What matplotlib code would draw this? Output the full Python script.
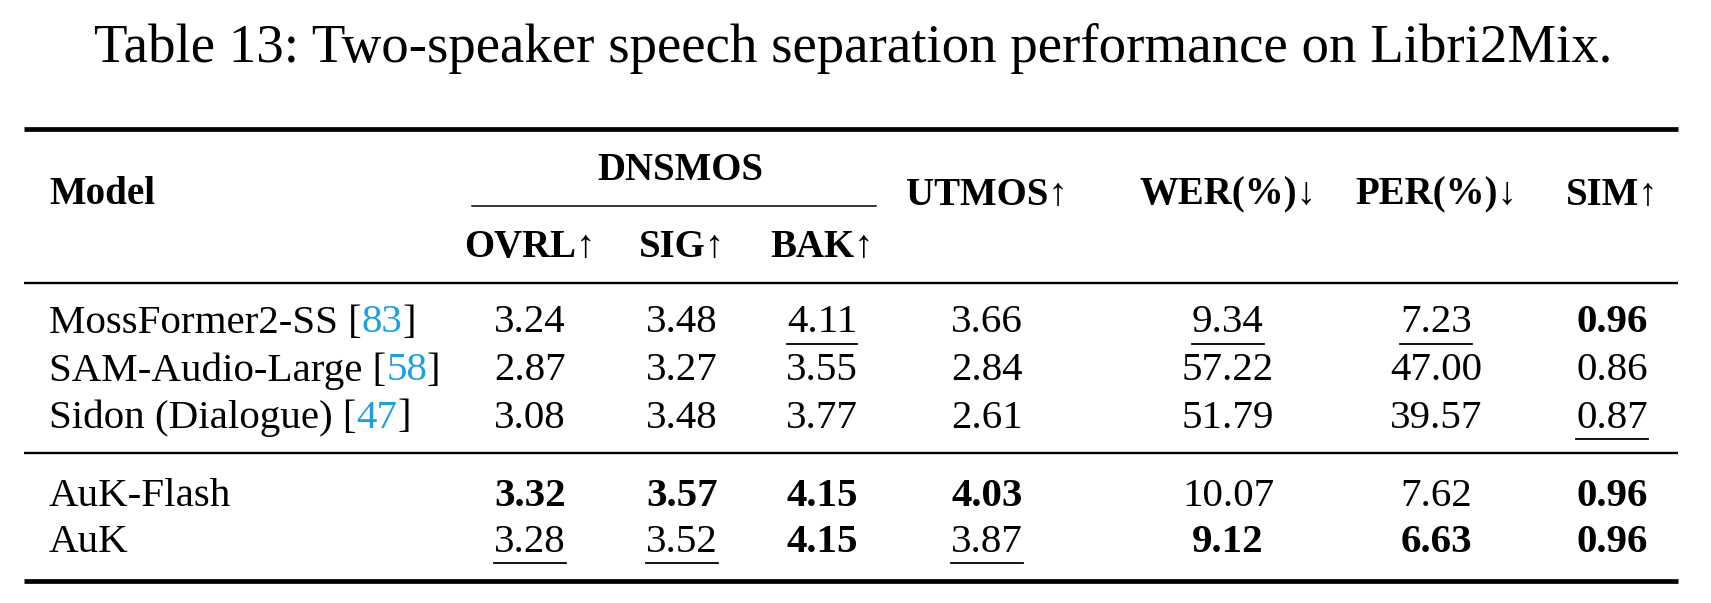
import matplotlib
matplotlib.use("Agg")
import matplotlib.pyplot as plt

SERIF = ["Liberation Serif", "DejaVu Serif"]
CITE = "#1BA1E2"

title = "Table 13: Two-speaker speech separation performance on Libri2Mix."
models = [("MossFormer2-SS [", "83", "]"),
          ("SAM-Audio-Large [", "58", "]"),
          ("Sidon (Dialogue) [", "47", "]"),
          ("AuK-Flash", "", ""),
          ("AuK", "", "")]
cols = ["OVRL↑", "SIG↑", "BAK↑", "UTMOS↑", "WER(%)↓", "PER(%)↓", "SIM↑"]
values = [["3.24", "3.48", "4.11", "3.66", "9.34", "7.23", "0.96"],
          ["2.87", "3.27", "3.55", "2.84", "57.22", "47.00", "0.86"],
          ["3.08", "3.48", "3.77", "2.61", "51.79", "39.57", "0.87"],
          ["3.32", "3.57", "4.15", "4.03", "10.07", "7.62", "0.96"],
          ["3.28", "3.52", "4.15", "3.87", "9.12", "6.63", "0.96"]]
# 'b' = bold, 'u' = underline, '' = plain
styles = [["", "", "u", "", "u", "u", "b"],
          ["", "", "", "", "", "", ""],
          ["", "", "", "", "", "", "u"],
          ["b", "b", "b", "b", "", "", "b"],
          ["u", "u", "b", "u", "b", "b", "b"]]

W, H = 1711, 603
fig = plt.figure(figsize=(W / 100, H / 100), dpi=100)
ax = fig.add_axes([0, 0, 1, 1])
ax.set_xlim(0, W)
ax.set_ylim(H, 0)
ax.axis("off")

col_x = [530, 682, 822, 987, 1228, 1436, 1612]
row_y = [323, 371, 418, 496, 542]
FS = 29.5
HFS = 28

ax.text(W / 2 - 2, 49, title, fontsize=39.5, family=SERIF, ha="center", va="center")

L, R = 24, 1678
for y, lw in [(129, 3.4), (283, 1.7), (453, 1.7), (581, 3.4)]:
    ax.plot([L, R], [y, y], color="black", lw=lw, solid_capstyle="butt")

ax.text(49, 195, "Model", fontsize=HFS, weight="bold", family=SERIF, va="center")
ax.text(680, 170, "DNSMOS", fontsize=HFS, weight="bold", family=SERIF, ha="center", va="center")
ax.plot([472, 876], [206, 206], color="black", lw=1.1)
for i, c in enumerate(cols):
    y = 247 if i < 3 else 195
    ax.text(col_x[i], y, c, fontsize=HFS, weight="bold", family=SERIF, ha="center", va="center")

fig.canvas.draw()
rend = fig.canvas.get_renderer()
inv = ax.transData.inverted()

def xr(t):
    bb = t.get_window_extent(rend)
    (x0, _), (x1, _) = inv.transform([[bb.x0, bb.y0], [bb.x1, bb.y1]])
    return x0, x1

for (a, cite, b), y in zip(models, row_y):
    t = ax.text(49, y, a, fontsize=FS, family=SERIF, va="center")
    if cite:
        x = xr(t)[1]
        t2 = ax.text(x, y, cite, fontsize=FS, family=SERIF, va="center", color=CITE)
        x = xr(t2)[1]
        ax.text(x, y, b, fontsize=FS, family=SERIF, va="center")

for r, y in enumerate(row_y):
    for c, x in enumerate(col_x):
        st = styles[r][c]
        t = ax.text(x, y, values[r][c], fontsize=FS, family=SERIF, ha="center", va="center",
                    weight="bold" if st == "b" else "normal")
        if st == "u":
            x0, x1 = xr(t)
            ax.plot([x0, x1], [y + 21, y + 21], color="black", lw=1.3)

fig.savefig("out.png", dpi=100)
